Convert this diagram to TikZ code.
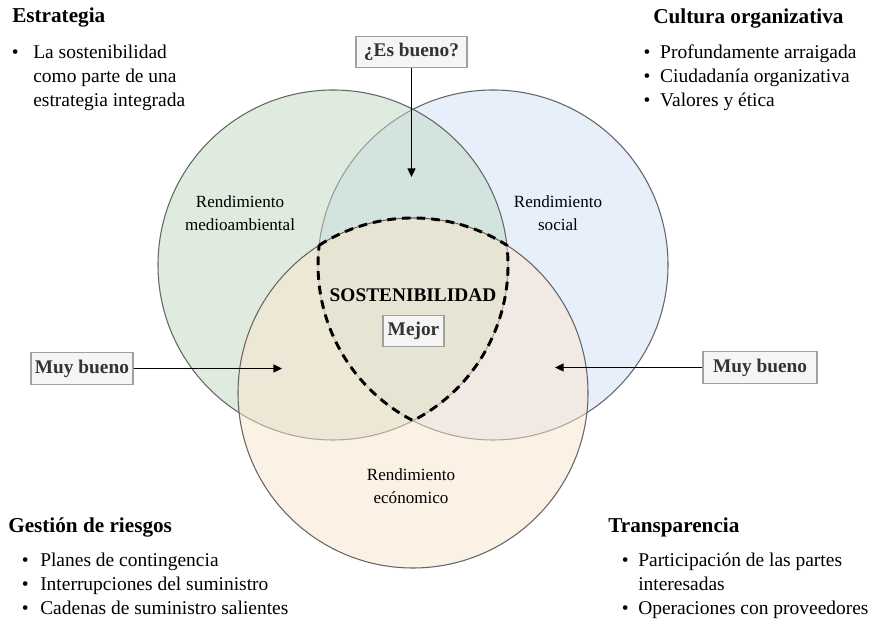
\documentclass[tikz,border=0pt]{standalone}
\usepackage{fontspec}
\setmainfont{Liberation Serif}
\usetikzlibrary{arrows.meta}

\definecolor{envfill}{HTML}{C1D9C1}
\definecolor{socfill}{HTML}{D1E1F9}
\definecolor{ecofill}{HTML}{FBE5CD}
\definecolor{ringline}{HTML}{666666}
\definecolor{tagfill}{HTML}{F5F5F5}
\definecolor{tagline}{HTML}{A0A0A0}
\definecolor{tagtext}{HTML}{333333}

\newcommand{\bodysize}{\fontsize{14.6}{18}\selectfont}
\newcommand{\headsize}{\fontsize{15.9}{19}\selectfont}
\newcommand{\ringsize}{\fontsize{12.8}{17.25}\selectfont}
\newcommand{\tagsize}{\fontsize{14.5}{17}\selectfont}

\begin{document}
\begin{tikzpicture}[x=0.75pt,y=0.75pt,
  ring/.style={circle, draw=ringline, line width=0.8pt, fill opacity=0.5,
    minimum size=262.5pt, inner sep=0pt},
  core/.style={draw=black, line width=2.2pt, dash pattern=on 6.5pt off 4.5pt},
  ringlabel/.style={font=\ringsize, align=center, inner sep=0pt},
  heading/.style={font=\headsize\bfseries, inner sep=0pt, anchor=base west},
  bullets/.style={font=\bodysize, inner sep=0pt, anchor=base west},
  tag/.style={draw=tagline, fill=tagfill, line width=0.8pt, font=\tagsize\bfseries,
    text=tagtext, inner sep=0pt, minimum height=23.5pt},
  pointer/.style={draw=black, line width=1pt, -{Triangle[length=6.5pt,width=6pt]}}]

\fill[white] (0,0) rectangle (873,623);
\useasboundingbox (0,0) rectangle (873,623);

% the three performance circles
\node[ring, fill=socfill] (soc) at (493,358) {};
\node[ring, fill=envfill] (env) at (333,358) {};
\node[ring, fill=ecofill] (eco) at (413,230) {};

% common core of the three circles
\draw[core] (319.1,377.7)
  arc[start angle=122.45, end angle=57.55, radius=175]
  arc[start angle=6.46, end angle=-62.79, radius=175]
  arc[start angle=-117.21, end angle=-186.46, radius=175] -- cycle;

% circle labels
\node[ringlabel] (envlab) at (240,410) {Rendimiento\\medioambiental};
\node[ringlabel] (soclab) at (558,410) {Rendimiento\\social};
\node[ringlabel] (ecolab) at (411,137) {Rendimiento\\ecónomico};
\node[font=\tagsize\bfseries, inner sep=0pt] (sost) at (413,328) {SOSTENIBILIDAD};

% rating tags
\node[tag, minimum width=45.75pt] (best) at (413.5,292) {Mejor};
\node[tag, minimum width=83.25pt] (good) at (411.5,571) {¿Es bueno?};
\node[tag, minimum width=76.5pt] (vgoodL) at (82,254.5) {Muy bueno};
\node[tag, minimum width=85.5pt] (vgoodR) at (760,255.5) {Muy bueno};

\coordinate (goodtip) at (411.5,446);
\coordinate (lefttip) at (282,254.5);
\coordinate (righttip) at (555,255.5);
\draw[pointer] (good.south) -- (goodtip);
\draw[pointer] (vgoodL.east) -- (lefttip);
\draw[pointer] (vgoodR.west) -- (righttip);

% corner notes
\node[heading] (strat) at (12,600) {Estrategia};
\node[bullets] (stratlist) at (11.6,564)
  {\begin{tabular}[t]{@{}l@{\hspace{11pt}}l@{}}
   \textbullet & La sostenibilidad\\
               & como parte de una\\
               & estrategia integrada
   \end{tabular}};

\node[heading] (cult) at (653,599) {Cultura organizativa};
\node[bullets] (cultlist) at (643.3,564)
  {\begin{tabular}[t]{@{}l@{\hspace{7.4pt}}l@{}}
   \textbullet & Profundamente arraigada\\
   \textbullet & Ciudadanía organizativa\\
   \textbullet & Valores y ética
   \end{tabular}};

\node[heading] (risk) at (8,90) {Gestión de riesgos};
\node[bullets] (risklist) at (21.6,56.3)
  {\begin{tabular}[t]{@{}l@{\hspace{8.7pt}}l@{}}
   \textbullet & Planes de contingencia\\
   \textbullet & Interrupciones del suministro\\
   \textbullet & Cadenas de suministro salientes
   \end{tabular}};

\node[heading] (transp) at (608,90) {Transparencia};
\node[bullets] (transplist) at (621.6,56.3)
  {\begin{tabular}[t]{@{}l@{\hspace{7.2pt}}l@{}}
   \textbullet & Participación de las partes\\
               & interesadas\\
   \textbullet & Operaciones con proveedores
   \end{tabular}};
\end{tikzpicture}
\end{document}
